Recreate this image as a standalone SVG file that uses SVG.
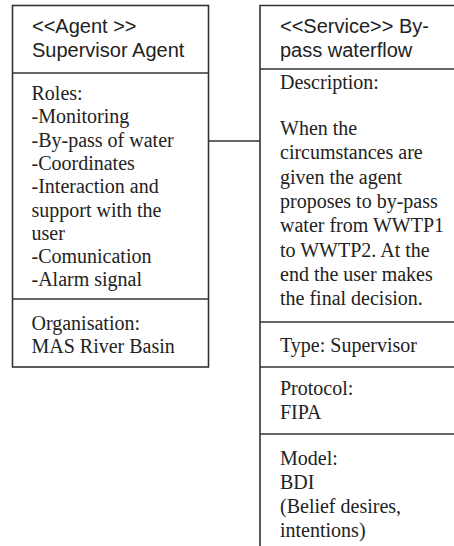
<svg xmlns="http://www.w3.org/2000/svg" width="454" height="546" viewBox="0 0 454 546">
  <style>
    .box { fill: #ffffff; stroke: #333333; stroke-width: 1.6; }
    .div { stroke: #333333; stroke-width: 1.6; fill: none; }
    .head { font-family: "Liberation Sans", Arial, sans-serif; font-size: 20px; fill: #222222; }
    .body { font-family: "Liberation Serif", "Times New Roman", serif; font-size: 20px; fill: #222222; }
    .link { stroke: #333333; stroke-width: 1.6; fill: none; }
  </style>
  <rect width="454" height="546" fill="#ffffff"/>

  <!-- association between the agent and its service -->
  <g id="connectors">
    <line class="link" x1="205" y1="141" x2="260" y2="141"/>
  </g>

  <!-- agent class box -->
  <g id="supervisor-agent">
    <rect class="box" x="12.5" y="5.5" width="196" height="361.5"/>
    <line class="div" x1="12.5" y1="73" x2="208.5" y2="73"/>
    <line class="div" x1="12.5" y1="299" x2="208.5" y2="299"/>
    <text class="head" x="32" y="32.5">&lt;&lt;Agent &gt;&gt;</text>
    <text class="head" x="32" y="57">Supervisor Agent</text>
    <text class="body" x="31.5" y="100">Roles:</text>
    <text class="body" x="31.5" y="123.3">-Monitoring</text>
    <text class="body" x="31.5" y="146.6">-By-pass of water</text>
    <text class="body" x="31.5" y="169.9">-Coordinates</text>
    <text class="body" x="31.5" y="193.2">-Interaction and</text>
    <text class="body" x="31.5" y="216.5">support with the</text>
    <text class="body" x="31.5" y="239.8">user</text>
    <text class="body" x="31.5" y="263.1">-Comunication</text>
    <text class="body" x="31.5" y="286.4">-Alarm signal</text>
    <text class="body" x="31.5" y="329.5">Organisation:</text>
    <text class="body" x="31.5" y="352.5">MAS River Basin</text>
  </g>

  <!-- service class box (runs past the right and bottom edges) -->
  <g id="bypass-service">
    <path class="div" d="M 460 5.5 H 260 V 546"/>
    <line class="div" x1="260" y1="69" x2="460" y2="69"/>
    <line class="div" x1="260" y1="322" x2="460" y2="322"/>
    <line class="div" x1="260" y1="367" x2="460" y2="367"/>
    <line class="div" x1="260" y1="434" x2="460" y2="434"/>
    <text class="head" x="280" y="32.5">&lt;&lt;Service&gt;&gt; By-</text>
    <text class="head" x="280" y="57">pass waterflow</text>
    <text class="body" x="280" y="88.5">Description:</text>
    <text class="body" x="280" y="135">When the</text>
    <text class="body" x="280" y="159.3">circumstances are</text>
    <text class="body" x="280" y="183.6">given the agent</text>
    <text class="body" x="280" y="207.9">proposes to by-pass</text>
    <text class="body" x="280" y="232.2">water from WWTP1</text>
    <text class="body" x="280" y="256.5">to WWTP2. At the</text>
    <text class="body" x="280" y="280.8">end the user makes</text>
    <text class="body" x="280" y="305.1">the final decision.</text>
    <text class="body" x="280" y="352">Type: Supervisor</text>
    <text class="body" x="280" y="395">Protocol:</text>
    <text class="body" x="280" y="419">FIPA</text>
    <text class="body" x="280" y="465">Model:</text>
    <text class="body" x="280" y="489">BDI</text>
    <text class="body" x="280" y="513">(Belief desires,</text>
    <text class="body" x="280" y="537">intentions)</text>
  </g>
</svg>
